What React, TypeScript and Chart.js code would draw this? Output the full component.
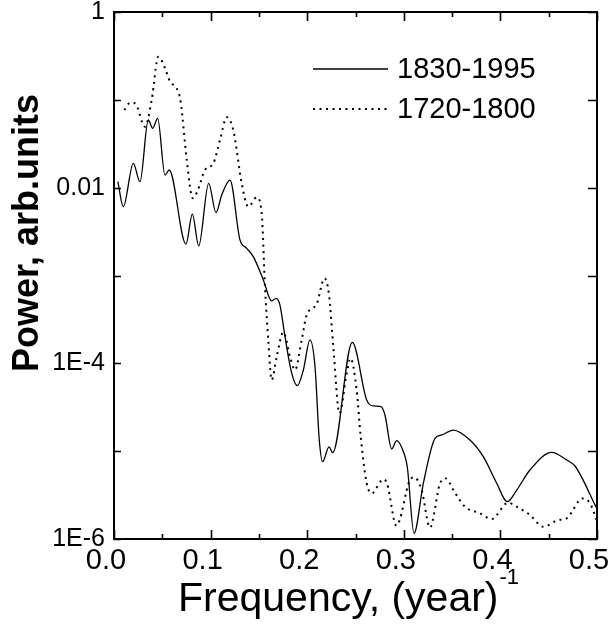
import React, { useEffect, useRef } from "react";
import { Chart, registerables } from "chart.js";

Chart.register(...registerables);

// ---- data ----
const seriesLabels = ["1830-1995", "1720-1800"];

const freq1830 = [
  0.004, 0.0096, 0.02, 0.0269, 0.0355, 0.0401, 0.0452, 0.0528, 0.0572, 0.0745,
  0.0811, 0.0877, 0.098, 0.1056, 0.1115, 0.1201, 0.1304, 0.1374, 0.1442, 0.1546,
  0.1632, 0.1677, 0.1718, 0.177, 0.184, 0.1898, 0.196, 0.2029, 0.2081, 0.2125,
  0.216, 0.2226, 0.2264, 0.2467, 0.2616, 0.2684, 0.2764, 0.2805, 0.2875, 0.2926,
  0.3002, 0.3036, 0.3106, 0.3202, 0.3323, 0.3392, 0.3512, 0.3685, 0.3823, 0.3962,
  0.4071, 0.4169, 0.4306, 0.4531, 0.4686, 0.4772, 0.4997,
];
const power1830 = [
  1.17e-2, 6.07e-3, 1.89e-2, 1.17e-2, 5.89e-2, 4.74e-2, 6.16e-2, 1.39e-2, 1.59e-2, 2.28e-3,
  5.01e-3, 2.17e-3, 1.12e-2, 5.19e-3, 8.25e-3, 1.22e-2, 2.54e-3, 2.04e-3, 1.64e-3, 8.89e-4,
  5.13e-4, 5.5e-4, 4.61e-4, 2.01e-4, 7.69e-5, 5.56e-5, 8.39e-5, 1.85e-4, 9.15e-5, 1.34e-5,
  7.59e-6, 1.12e-5, 9.6e-6, 1.73e-4, 3.82e-5, 3.27e-5, 3.21e-5, 2.58e-5, 1.06e-5, 1.32e-5,
  9.45e-6, 6.65e-6, 1.16e-6, 4.3e-6, 1.4e-5, 1.53e-5, 1.74e-5, 1.34e-5, 8.65e-6, 4.31e-6,
  2.66e-6, 3.61e-6, 6.1e-6, 9.7e-6, 7.93e-6, 6.78e-6, 2.24e-6,
];

const freq1720 = [
  0.0107, 0.0166, 0.0217, 0.0321, 0.039, 0.0459, 0.0528, 0.058, 0.0649, 0.069,
  0.0753, 0.0815, 0.0862, 0.0942, 0.1028, 0.1097, 0.1167, 0.1235, 0.1322, 0.139,
  0.1477, 0.1529, 0.1563, 0.1597, 0.1632, 0.1684, 0.1753, 0.1822, 0.1874, 0.1943,
  0.1995, 0.2098, 0.2179, 0.2226, 0.227, 0.2334, 0.2409, 0.2448, 0.2512, 0.2554,
  0.2616, 0.2668, 0.2788, 0.2826, 0.2924, 0.3064, 0.3109, 0.3185, 0.3271, 0.3375,
  0.3437, 0.3512, 0.3634, 0.3789, 0.391, 0.4079, 0.4169, 0.4306, 0.4444, 0.4596,
  0.4686, 0.485, 0.4928, 0.4997,
];
const power1720 = [
  7.66e-2, 9.27e-2, 9.13e-2, 4.94e-2, 9.95e-2, 0.31, 0.229, 0.161, 0.135, 9.52e-2,
  2.07e-2, 7.57e-3, 9.0e-3, 1.59e-2, 1.89e-2, 3.49e-2, 6.33e-2, 4.53e-2, 1.12e-2, 6.07e-3,
  7.77e-3, 5.1e-3, 7.45e-4, 1.85e-4, 6.46e-5, 1.19e-4, 2.27e-4, 1.19e-4, 8.39e-5, 1.85e-4,
  3.55e-4, 4.73e-4, 9.29e-4, 6.0e-4, 1.55e-4, 2.7e-5, 7.69e-5, 1.14e-4, 4.97e-5, 1.46e-5,
  4.3e-6, 3.31e-6, 4.78e-6, 4.3e-6, 1.42e-6, 4.7e-6, 5.04e-6, 3.61e-6, 1.35e-6, 4.3e-6,
  4.89e-6, 3.61e-6, 2.33e-6, 1.96e-6, 1.69e-6, 2.59e-6, 2.33e-6, 1.88e-6, 1.38e-6, 1.64e-6,
  1.72e-6, 2.9e-6, 2.55e-6, 1.64e-6,
];

const xTickValues = [0, 0.05, 0.1, 0.15, 0.2, 0.25, 0.3, 0.35, 0.4, 0.45, 0.5];
const xMajorTicks = [0, 0.1, 0.2, 0.3, 0.4, 0.5];
const yTickValues = [1e-6, 1e-5, 1e-4, 1e-3, 1e-2, 1e-1, 1];
const yLabelValues = [1e-6, 1e-4, 1e-2, 1];
const yLabelTexts = ["1E-6", "1E-4", "0.01", "1"];

const xTitle = "Frequency, (year)";
const xTitleSup = "-1";
const yTitle = "Power, arb.units";

const FONT = "'Liberation Sans', Arial, Helvetica, sans-serif";

const decorPlugin = {
  id: "decor",
  afterDraw(chart: any) {
    const { ctx, chartArea: a } = chart;
    const xs = chart.scales.x;
    const ys = chart.scales.y;
    ctx.save();
    ctx.strokeStyle = "#000";
    ctx.fillStyle = "#000";
    ctx.lineWidth = 2;
    ctx.strokeRect(a.left, a.top, a.right - a.left, a.bottom - a.top);

    ctx.lineWidth = 1.6;
    ctx.beginPath();
    xTickValues.forEach((v) => {
      const px = Math.round(xs.getPixelForValue(v)) + 0.5;
      const len = xMajorTicks.some((m) => Math.abs(m - v) < 1e-9) ? 9 : 5;
      ctx.moveTo(px, a.bottom);
      ctx.lineTo(px, a.bottom - len);
      ctx.moveTo(px, a.top);
      ctx.lineTo(px, a.top + len);
    });
    yTickValues.forEach((v) => {
      const py = Math.round(ys.getPixelForValue(v)) + 0.5;
      ctx.moveTo(a.left, py);
      ctx.lineTo(a.left + 7, py);
      ctx.moveTo(a.right, py);
      ctx.lineTo(a.right - 9, py);
    });
    ctx.stroke();

    // legend
    const ds = chart.data.datasets;
    const legY = [69, 109];
    ds.forEach((d: any, i: number) => {
      ctx.save();
      ctx.lineWidth = d.borderWidth;
      ctx.setLineDash(d.borderDash || []);
      ctx.beginPath();
      ctx.moveTo(313, legY[i]);
      ctx.lineTo(388, legY[i]);
      ctx.stroke();
      ctx.restore();
      ctx.font = `29px ${FONT}`;
      ctx.textAlign = "left";
      ctx.textBaseline = "middle";
      ctx.fillText(d.label, 397, legY[i] + 1);
    });

    // x title
    ctx.font = `41px ${FONT}`;
    ctx.textAlign = "left";
    ctx.textBaseline = "alphabetic";
    const tx = 178;
    ctx.fillText(xTitle, tx, 611);
    const w = ctx.measureText(xTitle).width;
    ctx.font = `22px ${FONT}`;
    ctx.fillText(xTitleSup, tx + w + 1, 584);

    // y title
    ctx.save();
    ctx.translate(38, 233);
    ctx.rotate(-Math.PI / 2);
    ctx.font = `bold 36px ${FONT}`;
    ctx.textAlign = "center";
    ctx.textBaseline = "alphabetic";
    ctx.fillText(yTitle, 0, 0);
    ctx.restore();

    ctx.restore();
  },
};

export default function App() {
  const ref = useRef<HTMLCanvasElement | null>(null);
  useEffect(() => {
    document.body.style.margin = "0";
    const canvas = ref.current!;
    const chart = new Chart(canvas, {
      type: "line",
      data: {
        datasets: [
          {
            label: seriesLabels[0],
            data: freq1830.map((f, i) => ({ x: f, y: power1830[i] })),
            borderColor: "#000",
            borderWidth: 1.3,
            pointRadius: 0,
            fill: false,
            cubicInterpolationMode: "monotone",
          },
          {
            label: seriesLabels[1],
            data: freq1720.map((f, i) => ({ x: f, y: power1720[i] })),
            borderColor: "#000",
            borderWidth: 2,
            borderDash: [2, 4.5],
            pointRadius: 0,
            fill: false,
            cubicInterpolationMode: "monotone",
          },
        ],
      },
      options: {
        animation: false,
        responsive: false,
        maintainAspectRatio: false,
        devicePixelRatio: 1,
        layout: { padding: { top: 12, right: 19, left: 0, bottom: 0 } },
        plugins: { legend: { display: false }, tooltip: { enabled: false }, title: { display: false } },
        scales: {
          x: {
            type: "linear",
            min: 0,
            max: 0.5,
            grid: { display: false, drawTicks: false },
            border: { display: false },
            afterBuildTicks: (s: any) => {
              s.ticks = xMajorTicks.map((v) => ({ value: v }));
            },
            afterFit: (s: any) => {
              s.height = 90;
              s.paddingLeft = 0;
              s.paddingRight = 0;
            },
            ticks: {
              callback: (v: any) => Number(v).toFixed(1),
              font: { family: FONT, size: 29, lineHeight: 1 },
              color: "#000",
              padding: 7,
              labelOffset: -8,
              maxRotation: 0,
              autoSkip: false,
            },
          },
          y: {
            type: "logarithmic",
            min: 1e-6,
            max: 1,
            grid: { display: false, drawTicks: false },
            border: { display: false },
            afterBuildTicks: (s: any) => {
              s.ticks = yLabelValues.map((v) => ({ value: v }));
            },
            afterFit: (s: any) => {
              s.width = 114;
              s.paddingTop = 0;
              s.paddingBottom = 0;
            },
            ticks: {
              callback: (v: any) => {
                const idx = yLabelValues.findIndex((t) => Math.abs(Math.log10(t) - Math.log10(Number(v))) < 1e-6);
                return idx >= 0 ? yLabelTexts[idx] : "";
              },
              font: { family: FONT, size: 25 },
              color: "#000",
              padding: 9,
              autoSkip: false,
            },
          },
        },
      },
      plugins: [decorPlugin],
    });
    return () => chart.destroy();
  }, []);
  return (
    <div style={{ width: 616, height: 629 }}>
      <canvas ref={ref} width={616} height={629} style={{ display: "block", width: 616, height: 629 }} />
    </div>
  );
}
